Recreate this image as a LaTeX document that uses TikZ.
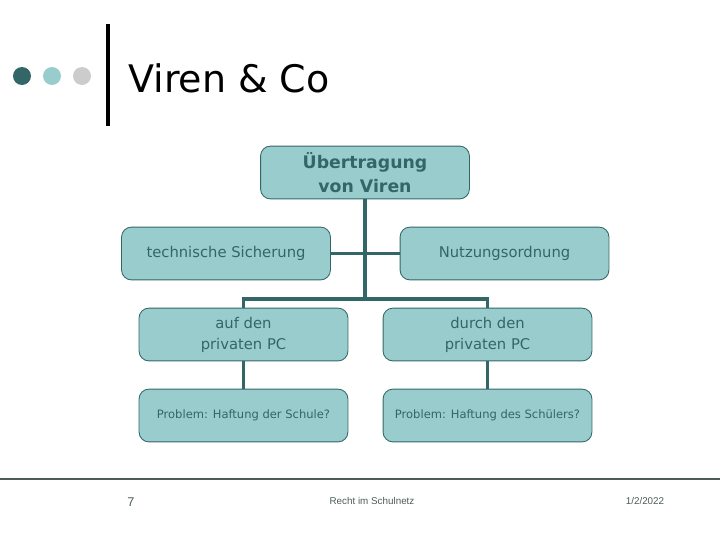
\documentclass[tikz,border=0pt]{standalone}
\usepackage{fontspec}
\setmainfont{DejaVu Sans}
\newfontfamily\footfont{Liberation Sans}
\usetikzlibrary{positioning}
\definecolor{tealdark}{HTML}{336666}
\definecolor{teallight}{HTML}{99CCCC}
\definecolor{dotgrey}{HTML}{CCCCCC}
\definecolor{footgrey}{HTML}{4D5A5A}
\tikzset{
  box/.style={draw=tealdark, line width=0.6pt, fill=teallight, rounded corners=7pt,
    minimum width=5.22cm, minimum height=1.32cm, align=center, text=tealdark,
    inner sep=2pt, font=\fontsize{10.5}{15}\selectfont},
  smallbox/.style={box, font=\fontsize{8.2}{10}\selectfont},
  link/.style={draw=tealdark, line width=2.2pt},
  foot/.style={text=footgrey, font=\footfont\fontsize{7}{8}\selectfont}
}

\begin{document}
\begin{tikzpicture}[x=0.025cm, y=-0.025cm]
  %%%%% START %%%%%
  \useasboundingbox (0,0) rectangle (720,540);

  % logo and title
  \fill[tealdark] (22,76) circle (9);
  \fill[teallight] (52,76) circle (9);
  \fill[dotgrey] (82,76) circle (9);
  \draw[line width=3pt] (108,24) -- (108,126);
  \node[anchor=base west, inner sep=0pt, font=\fontsize{27}{32}\selectfont] (title) at (128,92) {Viren \& Co};

  % boxes
  \node[box, font=\bfseries\fontsize{12.3}{17}\selectfont] (virus) at (365,172.5) {Übertragung\\von Viren};
  \node[box] (tech) at (226,253.5) {technische Sicherung};
  \node[box] (nutz) at (504.5,253.5) {Nutzungsordnung};
  \node[box] (auf) at (243.5,334.5) {auf den\\privaten PC};
  \node[box] (durch) at (487.5,334.5) {durch den\\privaten PC};
  \node[smallbox] (schule) at (243.5,415.5) {Problem: Haftung der Schule?};
  \node[smallbox] (schueler) at (487.5,415.5) {Problem: Haftung des Schülers?};

  % connectors
  \coordinate (fork) at (365,299);
  \draw[link] (virus.south) -- (fork);
  \draw[link] (tech.east) -- (nutz.west);
  \draw[link] (auf.north) |- (fork) -| (durch.north);
  \draw[link] (auf) -- (schule);
  \draw[link] (durch) -- (schueler);

  % footer
  \draw[footgrey, line width=1pt] (0,479) -- (720,479);
  \node[foot, font=\footfont\fontsize{9}{10}\selectfont] (page) at (131,502) {7};
  \node[foot] (subject) at (372,501) {Recht im Schulnetz};
  \node[foot] (date) at (645,501) {1/2/2022};
  %%%%% END %%%%%
\end{tikzpicture}
\end{document}
